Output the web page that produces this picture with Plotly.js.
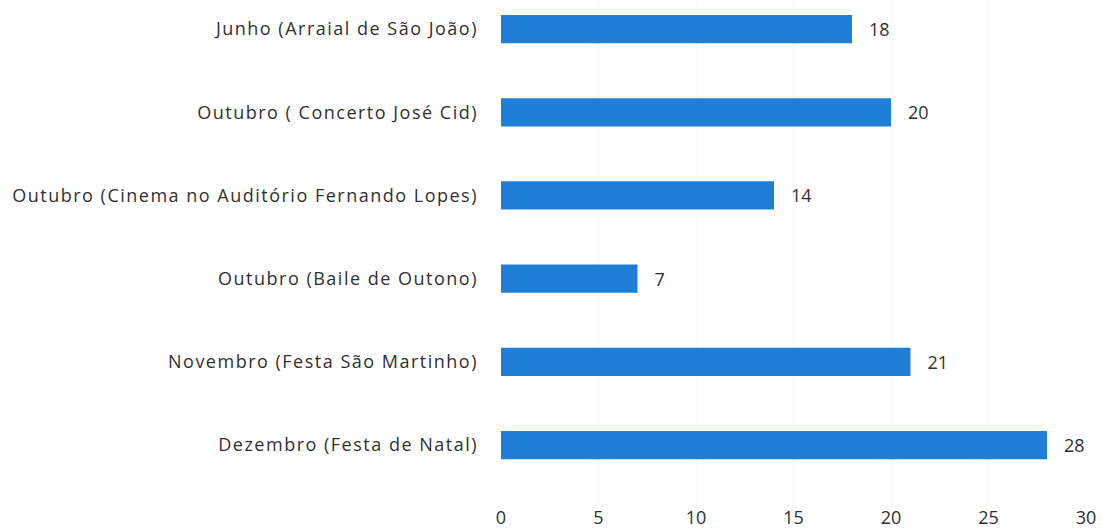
<!DOCTYPE html>
<html>
<head>
<meta charset="utf-8">
<script src="https://cdn.plot.ly/plotly-3.0.1.min.js"></script>
<style>
html,body{margin:0;padding:0;background:#fff;}
#chart{width:1102px;height:529px;}
#chart .ytick text{letter-spacing:1.5px;}
</style>
</head>
<body>
<div id="chart"></div>
<script>
const categories = [
  "Dezembro (Festa de Natal)",
  "Novembro (Festa São Martinho)",
  "Outubro (Baile de Outono)",
  "Outubro (Cinema no Auditório Fernando Lopes)",
  "Outubro ( Concerto José Cid)",
  "Junho (Arraial de São João)"
];
const values = [28, 21, 7, 14, 20, 18];
const xTicks = [0, 5, 10, 15, 20, 25, 30];

const font = {family: "'Open Sans', 'Noto Sans', sans-serif", size: 18, color: "#303030"};

Plotly.newPlot("chart", [{
  type: "bar",
  orientation: "h",
  x: values,
  y: categories,
  width: 0.34,
  marker: {color: "#1f7fd6"},
  text: values.map(v => "\u00a0\u00a0\u00a0" + v),
  textposition: "outside",
  textfont: font,
  cliponaxis: false,
  hoverinfo: "none"
}], {
  width: 1102,
  height: 529,
  margin: {l: 501, r: 16, t: 0, b: 24, pad: 0},
  paper_bgcolor: "#ffffff",
  plot_bgcolor: "#ffffff",
  showlegend: false,
  font: font,
  xaxis: {
    range: [0, 30],
    tickvals: xTicks,
    ticktext: xTicks.map(String),
    showgrid: true,
    gridcolor: "#f8f8f8",
    zeroline: false,
    showline: false,
    ticks: "",
    tickfont: font,
    fixedrange: true
  },
  yaxis: {
    type: "category",
    categoryorder: "array",
    categoryarray: categories,
    range: [-0.721, 5.35],
    showgrid: false,
    zeroline: false,
    showline: false,
    ticks: "",
    ticklabelstandoff: 22,
    tickfont: font,
    fixedrange: true
  }
}, {displayModeBar: false, staticPlot: true});
</script>
</body>
</html>
